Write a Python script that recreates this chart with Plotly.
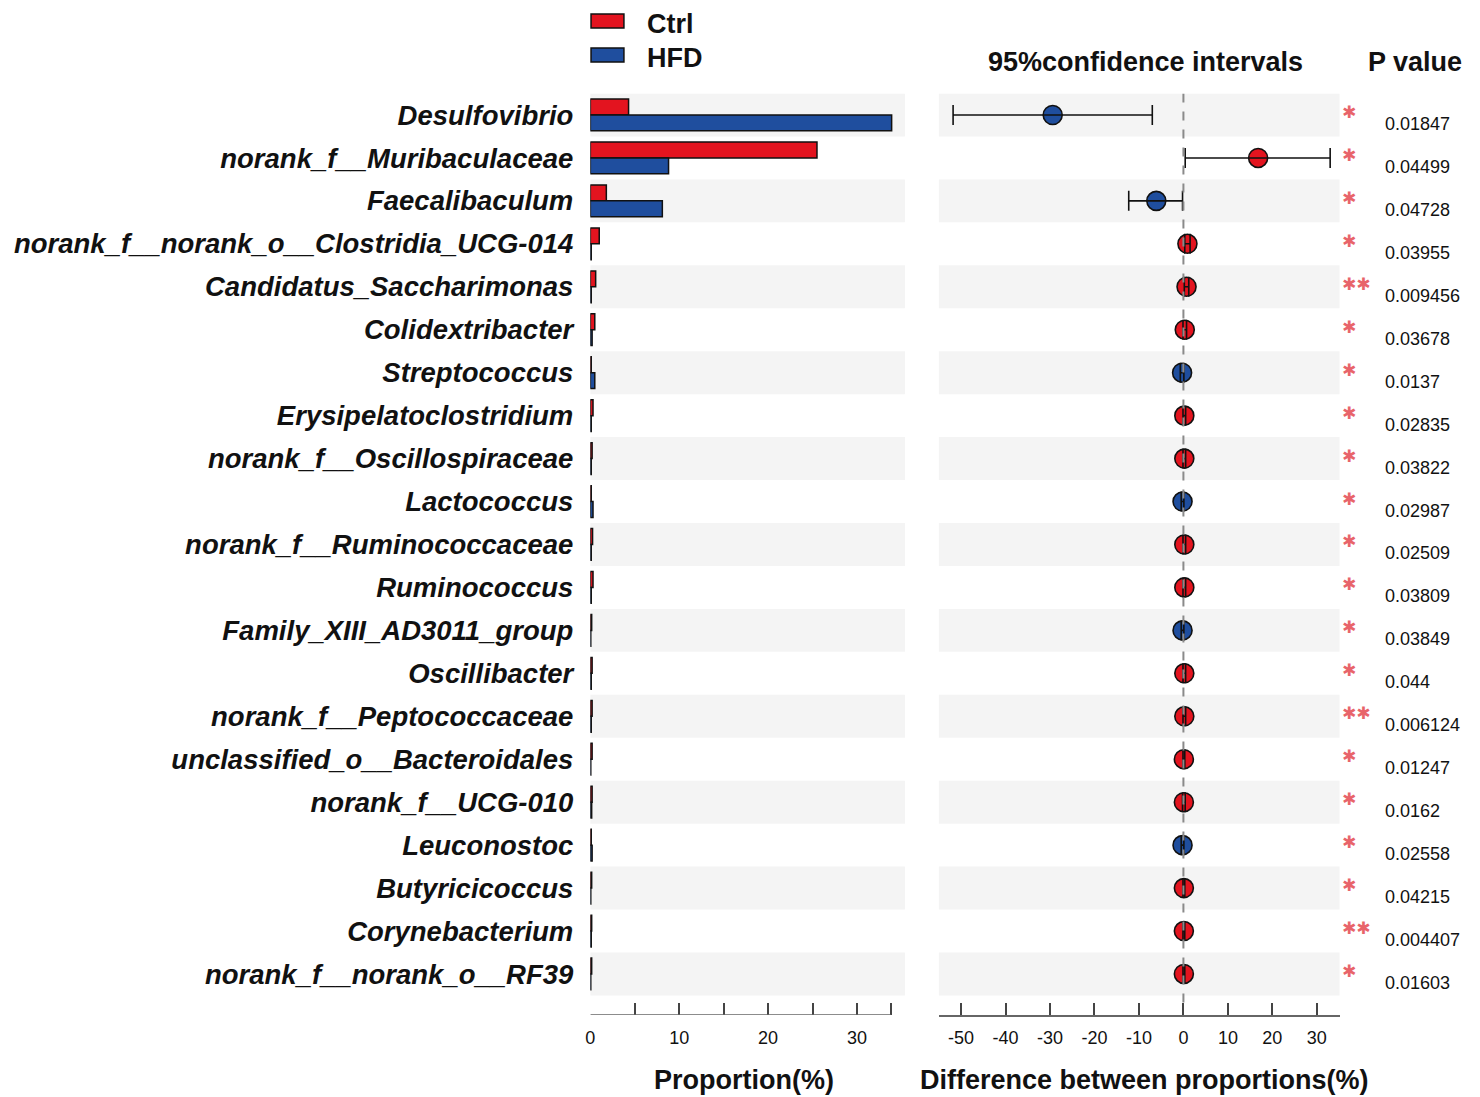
import plotly.graph_objects as go

W, H = 1480, 1097
OFFX, OFFY = 9, 8  # page body margin compensation

genera = ["Desulfovibrio", "norank_f__Muribaculaceae", "Faecalibaculum",
          "norank_f__norank_o__Clostridia_UCG-014", "Candidatus_Saccharimonas",
          "Colidextribacter", "Streptococcus", "Erysipelatoclostridium",
          "norank_f__Oscillospiraceae", "Lactococcus", "norank_f__Ruminococcaceae",
          "Ruminococcus", "Family_XIII_AD3011_group", "Oscillibacter",
          "norank_f__Peptococcaceae", "unclassified_o__Bacteroidales",
          "norank_f__UCG-010", "Leuconostoc", "Butyricicoccus",
          "Corynebacterium", "norank_f__norank_o__RF39"]
groups = ["Ctrl", "HFD"]
group_colors = ["#E3141F", "#1F4E9E"]
ctrl = [4.3, 25.5, 1.8, 1.0, 0.6, 0.5, 0.1, 0.3, 0.2, 0.1, 0.25, 0.3, 0.15, 0.2,
        0.2, 0.2, 0.2, 0.1, 0.15, 0.15, 0.15]
hfd = [33.9, 8.8, 8.1, 0.1, 0.1, 0.2, 0.5, 0.1, 0.1, 0.3, 0.1, 0.1, 0.05, 0.1,
       0.1, 0.05, 0.15, 0.2, 0.05, 0.1, 0.05]
diff = [-29.4, 16.8, -6.1, 0.9, 0.7, 0.3, -0.3, 0.2, 0.2, -0.2, 0.2, 0.2, -0.2,
        0.2, 0.2, 0.1, 0.1, -0.2, 0.1, 0.1, 0.1]
ci_low = [-51.8, 0.4, -12.3, 0.3, 0.2, -0.1, -0.7, -0.1, -0.1, -0.5, -0.1, -0.1,
          -0.5, -0.1, -0.1, -0.1, -0.2, -0.5, -0.1, -0.1, -0.1]
ci_high = [-7.0, 33.0, -0.2, 1.5, 1.2, 0.7, 0.1, 0.5, 0.5, 0.1, 0.5, 0.5, 0.1,
           0.5, 0.5, 0.3, 0.4, 0.1, 0.3, 0.3, 0.3]
pvals = [0.01847, 0.04499, 0.04728, 0.03955, 0.009456, 0.03678, 0.0137, 0.02835,
         0.03822, 0.02987, 0.02509, 0.03809, 0.03849, 0.044, 0.006124, 0.01247,
         0.0162, 0.02558, 0.04215, 0.004407, 0.01603]

prop_range = [0, 33.8]
prop_ticks = [0, 5, 10, 15, 20, 25, 30, 33.8]
prop_ticktext = ["0", "", "10", "", "20", "", "30", ""]
diff_ticks = [-55, -50, -40, -30, -20, -10, 0, 10, 20, 30, 35.1]
diff_ticktext = ["", "-50", "-40", "-30", "-20", "-10", "0", "10", "20", "30", ""]


def px(x):
    return (x - OFFX) / W


def py(y):
    return 1 - (y - OFFY) / H


n = len(genera)
idx = list(range(n))
FONT = "Liberation Sans"
BIG = 27

fig = go.Figure()

# background bands
for i in idx:
    if i % 2 == 0:
        for xr in ("x", "x2"):
            fig.add_shape(type="rect", xref=f"{xr} domain", yref="y", x0=0, x1=1,
                          y0=i - 0.5, y1=i + 0.5, fillcolor="#F4F4F4",
                          line_width=0, layer="below")

# bars
for g, vals, col in zip(groups, [ctrl, hfd], group_colors):
    fig.add_trace(go.Bar(x=vals, y=idx, orientation="h", name=g,
                         marker=dict(color=col, line=dict(color="#111", width=1.5)),
                         xaxis="x", yaxis="y", showlegend=False))

pt_colors = [group_colors[0] if d > 0 else group_colors[1] for d in diff]
fig.add_trace(go.Scatter(x=diff, y=idx, mode="markers", xaxis="x2", yaxis="y",
                         marker=dict(size=19, color=pt_colors,
                                     line=dict(color="#111", width=1.6)),
                         showlegend=False))
fig.add_trace(go.Scatter(
    x=diff, y=idx, mode="markers", xaxis="x2", yaxis="y",
    marker=dict(size=1, color="rgba(0,0,0,0)"),
    error_x=dict(type="data", symmetric=False,
                 array=[h - d for h, d in zip(ci_high, diff)],
                 arrayminus=[d - l for d, l in zip(diff, ci_low)],
                 color="#111", thickness=1.6, width=10),
    showlegend=False))

# zero line in CI panel
fig.add_shape(type="line", xref="x2", yref="y", x0=0, x1=0, y0=-0.5, y1=20.7,
              line=dict(color="#8A8A8A", width=2, dash="dash"), layer="above")

top_px, bot_px = 93.5, 1015
row_h = 42.95
y_top = -0.5
y_bot = y_top + (bot_px - top_px) / row_h

# left axis baseline only spans the data extent
fig.add_shape(type="line", xref="x", yref="y", x0=prop_range[0], x1=prop_range[1],
              y0=y_bot, y1=y_bot, line=dict(color="#666", width=1.5))

ann = []
for i, p in enumerate(pvals):
    stars = "✱✱" if p < 0.01 else "✱"
    ann.append(dict(xref="paper", yref="y", x=px(1340), y=i, yshift=3,
                    text=stars, showarrow=False, xanchor="left", yanchor="middle",
                    font=dict(family="DejaVu Sans", size=17, color="#E8646A")))
    ann.append(dict(xref="paper", yref="y", x=px(1384), y=i, yshift=-9,
                    text=str(p), showarrow=False, xanchor="left", yanchor="middle",
                    font=dict(family=FONT, size=18, color="#111")))

# manual legend
for k, (g, col) in enumerate(zip(groups, group_colors)):
    yc = 21 + 34 * k
    fig.add_shape(type="rect", xref="paper", yref="paper",
                  x0=px(589), x1=px(622), y0=py(yc - 7), y1=py(yc + 7),
                  fillcolor=col, line=dict(color="#111", width=1.5))
    ann.append(dict(xref="paper", yref="paper", x=px(643), y=py(yc + 3),
                    text=f"<b>{g}</b>", showarrow=False, xanchor="left",
                    yanchor="middle", font=dict(family=FONT, size=BIG, color="#111")))

for txt, x, y in [("95%confidence intervals", 1145, 62), ("P value", 1416, 62),
                  ("Proportion(%)", 742, 1080),
                  ("Difference between proportions(%)", 1144, 1080)]:
    ann.append(dict(xref="paper", yref="paper", x=px(x), y=py(y),
                    text=f"<b>{txt}</b>", showarrow=False, xanchor="center",
                    yanchor="middle", font=dict(family=FONT, size=BIG, color="#111")))

axis_common = dict(showgrid=False, zeroline=False,
                   ticks="inside", ticklen=12, tickwidth=1.5, tickcolor="#444",
                   tickfont=dict(family=FONT, size=18, color="#111"),
                   tickmode="array", fixedrange=True)

fig.update_layout(
    width=W, height=H, autosize=False,
    margin=dict(l=0, r=0, t=0, b=0),
    paper_bgcolor="white", plot_bgcolor="rgba(0,0,0,0)",
    barmode="group", bargap=0.26, bargroupgap=0,
    xaxis=dict(domain=[px(588.3), px(904)], range=[0, 35.4], anchor="y",
               showline=False, ticklabelstandoff=10,
               tickvals=prop_ticks, ticktext=prop_ticktext, **axis_common),
    xaxis2=dict(domain=[px(938), px(1340)], range=[-55, 35.1], anchor="y",
                showline=True, linecolor="#666", linewidth=1.5, ticklabelstandoff=6,
                tickvals=diff_ticks, ticktext=diff_ticktext, **axis_common),
    yaxis=dict(domain=[py(bot_px), py(top_px)], range=[y_bot, y_top],
               anchor="x", showgrid=False, zeroline=False, showline=False,
               tickmode="array", tickvals=idx,
               ticktext=[f"<b><i>{g}</i></b>" for g in genera],
               tickfont=dict(family=FONT, size=27.5, color="#111"),
               ticks="", ticklabelstandoff=16, fixedrange=True),
    annotations=ann,
)

fig.write_html("out.html")
